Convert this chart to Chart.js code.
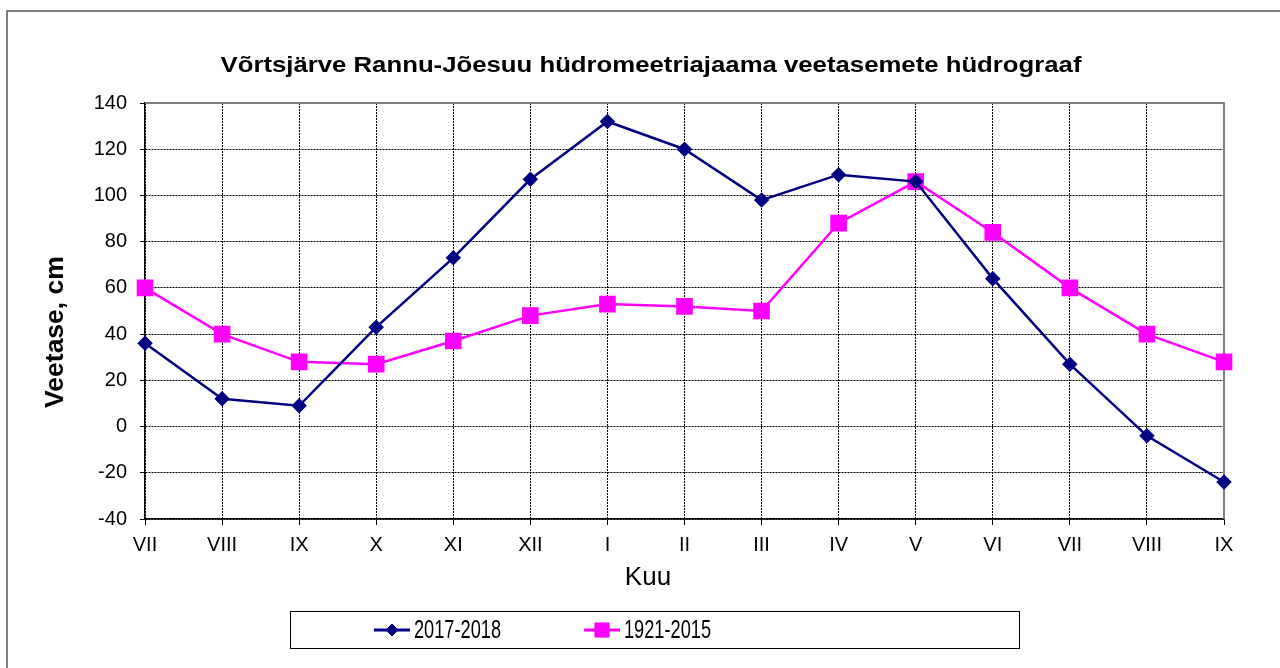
<!DOCTYPE html>
<html>
<head>
<meta charset="utf-8">
<script src="https://cdn.jsdelivr.net/npm/chart.js@4/dist/chart.umd.min.js"></script>
<style>
  html, body { margin: 0; padding: 0; background: #fff; }
  #wrap { width: 1280px; height: 668px; }
</style>
</head>
<body>
<div id="wrap"><canvas id="c" width="1280" height="668"></canvas></div>
<script>
// months Jul 2017 .. Sep 2018
const months = ['VII', 'VIII', 'IX', 'X', 'XI', 'XII', 'I', 'II', 'III', 'IV', 'V', 'VI', 'VII', 'VIII', 'IX'];
const level2017 = [36, 12, 9, 43, 73, 107, 132, 120, 98, 109, 106, 64, 27, -4, -24];
const level1921 = [60, 40, 28, 27, 37, 48, 53, 52, 50, 88, 106, 84, 60, 40, 28];
const seriesNames = ['2017-2018', '1921-2015'];
const yTicks = [-40, -20, 0, 20, 40, 60, 80, 100, 120, 140];

const titleText = 'Võrtsjärve Rannu-Jõesuu hüdromeetriajaama veetasemete hüdrograaf';
const FONT = '"Liberation Sans", Arial, sans-serif';

// text squeezed/stretched to a given width (Excel fonts render wider/narrower)
function fitText(ctx, text, cx, cy, w) {
  const m = ctx.measureText(text).width;
  ctx.save();
  ctx.translate(cx, cy);
  ctx.scale(w / m, 1);
  ctx.fillText(text, 0, 0);
  ctx.restore();
}

// titles, frame and legend box drawn by hand (Excel-like placement)
const decor = {
  id: 'decor',
  beforeDatasetsDraw(chart) {
    const {ctx, chartArea: a} = chart;
    ctx.save();
    ctx.strokeStyle = '#808080';
    ctx.lineWidth = 2;
    ctx.beginPath();
    ctx.moveTo(a.left, a.top);
    ctx.lineTo(a.right, a.top);
    ctx.lineTo(a.right, a.bottom);
    ctx.stroke();
    ctx.restore();
  },
  afterDraw(chart) {
    const ctx = chart.ctx;
    ctx.save();
    // outer frame
    ctx.strokeStyle = '#555';
    ctx.lineWidth = 1.5;
    ctx.strokeRect(7, 11, 1400, 800);

    ctx.fillStyle = '#000';
    ctx.textAlign = 'center';
    ctx.textBaseline = 'middle';
    ctx.font = 'bold 22px ' + FONT;
    fitText(ctx, titleText, 651, 66, 861);

    ctx.font = '26px ' + FONT;
    ctx.fillText('Kuu', 648, 578);

    ctx.save();
    ctx.translate(56, 332);
    ctx.rotate(-Math.PI / 2);
    ctx.font = 'bold 26.5px ' + FONT;
    ctx.fillText('Veetase, cm', 0, 0);
    ctx.restore();

    // legend
    ctx.strokeStyle = '#000';
    ctx.lineWidth = 1;
    ctx.strokeRect(290.5, 611.5, 729, 37);
    const items = [
      {x: 374, ds: chart.data.datasets[0]},
      {x: 584, ds: chart.data.datasets[1]}
    ];
    const ly = 630;
    items.forEach(it => {
      const ds = it.ds;
      ctx.strokeStyle = ds.borderColor;
      ctx.lineWidth = 3;
      ctx.beginPath();
      ctx.moveTo(it.x, ly);
      ctx.lineTo(it.x + 36, ly);
      ctx.stroke();
      ctx.fillStyle = ds.pointBackgroundColor;
      ctx.strokeStyle = ds.pointBorderColor;
      ctx.lineWidth = 1;
      Chart.helpers.drawPoint(ctx, {
        pointStyle: ds.pointStyle, radius: ds.pointRadius, rotation: 0, borderWidth: 1
      }, it.x + 18, ly);
      ctx.save();
      ctx.translate(it.x + 40, ly + 1);
      ctx.scale(0.7, 1);
      ctx.fillStyle = '#000';
      ctx.textAlign = 'left';
      ctx.font = '26px ' + FONT;
      ctx.fillText(ds.label, 0, 0);
      ctx.restore();
    });
    ctx.restore();
  }
};

new Chart(document.getElementById('c'), {
  type: 'line',
  data: {
    labels: months,
    datasets: [
      {
        label: seriesNames[0],
        data: level2017,
        borderColor: '#000080',
        backgroundColor: '#000080',
        pointBackgroundColor: '#000080',
        pointBorderColor: '#000080',
        borderWidth: 2.5,
        pointStyle: 'rectRot',
        pointRadius: 6,
        pointHoverRadius: 6,
        tension: 0
      },
      {
        label: seriesNames[1],
        data: level1921,
        borderColor: '#FF00FF',
        backgroundColor: '#FF00FF',
        pointBackgroundColor: '#FF00FF',
        pointBorderColor: '#FF00FF',
        borderWidth: 2.5,
        pointStyle: 'rect',
        pointRadius: 10,
        pointHoverRadius: 10,
        tension: 0
      }
    ]
  },
  options: {
    responsive: false,
    animation: false,
    events: [],
    layout: { padding: { left: 0, right: 56, top: 103, bottom: 109 } },
    plugins: {
      legend: { display: false },
      title: { display: false },
      tooltip: { enabled: false }
    },
    scales: {
      x: {
        offset: false,
        afterFit: s => { s.height = 40; },
        grid: {
          color: '#000', lineWidth: 1,
          tickLength: 6, tickColor: '#000', tickWidth: 1
        },
        border: { color: '#000', width: 1.5, dash: [2, 1] },
        ticks: {
          color: '#000', padding: 8, maxRotation: 0, autoSkip: false,
          font: { family: FONT, size: 20 }
        }
      },
      y: {
        min: -40, max: 140,
        afterFit: s => { s.width = 145; },
        afterBuildTicks: s => { s.ticks = yTicks.map(v => ({value: v})); },
        grid: {
          color: '#000', lineWidth: 1,
          tickLength: 5, tickColor: '#000', tickWidth: 1
        },
        border: { color: '#000', width: 1.5, dash: [2, 1] },
        ticks: {
          color: '#000', padding: 13,
          font: { family: FONT, size: 20 }
        }
      }
    }
  },
  plugins: [decor]
});
</script>
</body>
</html>
